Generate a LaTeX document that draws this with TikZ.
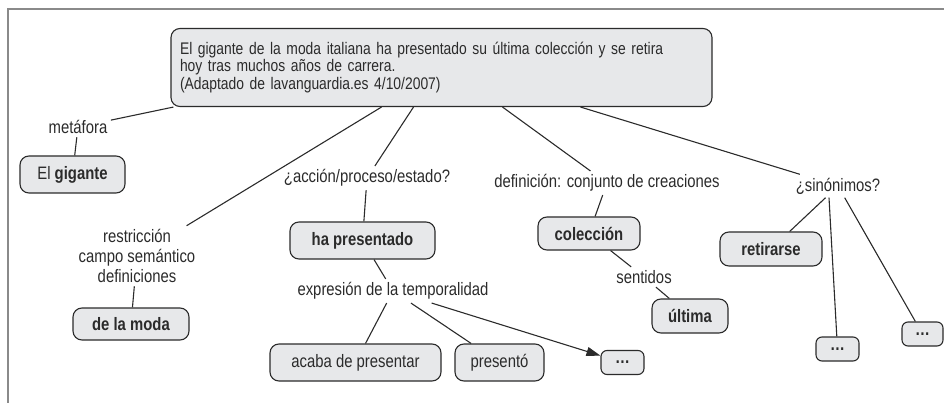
\documentclass[tikz,border=0pt]{standalone}
\usepackage{fontspec}
\setmainfont{Liberation Sans}[FakeStretch=0.826]
\usetikzlibrary{arrows.meta}
\definecolor{ink}{HTML}{2B2B2B}
\definecolor{boxfill}{HTML}{E7E8EA}
\definecolor{framegray}{HTML}{8A8A8A}

\begin{document}
\begin{tikzpicture}[x=1pt,y=-1pt,color=ink,line width=1.1pt,font=\fontsize{18pt}{18pt}\selectfont]
	\tikzstyle{concept}=[draw=ink,fill=boxfill,rounded corners=9pt,minimum height=37pt,inner sep=0pt]
	\tikzstyle{linkword}=[inner sep=3pt]
	\tikzstyle{dots}=[concept,rounded corners=6pt,minimum width=43pt,minimum height=24pt]
	
	\useasboundingbox (0,0) rectangle (944,403);
	\draw[framegray,line width=1.6pt] (8,403) -- (8,9) -- (944,9);
	
	\node[concept,minimum width=541pt,minimum height=78pt,text width=523pt,align=left,font=\fontsize{16.8pt}{17.5pt}\selectfont](frase) at (441.5,67.5){El gigante de la moda italiana ha presentado su última colección y se retira\\hoy tras muchos años de carrera.\\(Adaptado de lavanguardia.es 4/10/2007)};
	
	\node[linkword](metafora) at (78,127){metáfora};
	\node[concept,minimum width=105pt](gigante) at (72.5,174.5){El \textbf{gigante}};
	
	\node[linkword,align=center,font=\fontsize{18pt}{20pt}\selectfont](restriccion) at (137,256){restricción\\campo semántico\\definiciones};
	\node[concept,minimum width=116pt,minimum height=32pt](moda) at (131,324){\textbf{de la moda}};
	
	\node[linkword](accion) at (367,178){¿acción/proceso/estado?};
	\node[concept,minimum width=145pt](presentado) at (362.5,240.5){\textbf{ha presentado}};
	\node[linkword](temporalidad) at (393,291){expresión de la temporalidad};
	\node[concept,minimum width=171pt](acaba) at (355.5,362.5){acaba de presentar};
	\node[concept,minimum width=89pt](presento) at (499.5,362.5){presentó};
	\node[dots](otrosA) at (622.5,362.5){\textbf{…}};
	
	\node[linkword](definicion) at (607,183){definición: conjunto de creaciones};
	\node[concept,minimum width=102pt,minimum height=33pt](coleccion) at (589,233.5){\textbf{colección}};
	\node[linkword](sentidos) at (644,277){sentidos};
	\node[concept,minimum width=76pt,minimum height=34pt](ultima) at (690,316){\textbf{última}};
	
	\node[linkword](sinonimos) at (838,186){¿sinónimos?};
	\node[concept,minimum width=102pt,minimum height=34pt](retirarse) at (771,249){\textbf{retirarse}};
	\node[dots](otrosB) at (837.5,349){\textbf{…}};
	\node[dots,minimum width=41pt](otrosC) at (922.5,334){\textbf{…}};
	
	\draw ([xshift=3pt]frase.south west) -- (metafora);
	\draw (metafora) -- (gigante);
	
	\draw ([xshift=-60pt]frase.south) -- (restriccion);
	\draw (restriccion) -- (moda);
	
	\draw ([xshift=-28pt]frase.south) -- (accion);
	\draw (accion) -- (presentado);
	\draw (presentado) -- (temporalidad);
	\draw (temporalidad) -- (acaba);
	\draw (temporalidad) -- (presento);
	\draw[-{Triangle[length=14pt,width=9pt]}] (temporalidad) -- (otrosA);
	
	\draw ([xshift=61pt]frase.south) -- (definicion);
	\draw (definicion) -- (coleccion);
	\draw (coleccion) -- (sentidos);
	\draw (sentidos) -- (ultima);
	
	\draw ([xshift=139pt]frase.south) -- (sinonimos);
	\draw (sinonimos) -- (retirarse);
	\draw ([xshift=-9pt]sinonimos.south) -- (otrosB);
	\draw (sinonimos) -- (otrosC);
\end{tikzpicture}
\end{document}
